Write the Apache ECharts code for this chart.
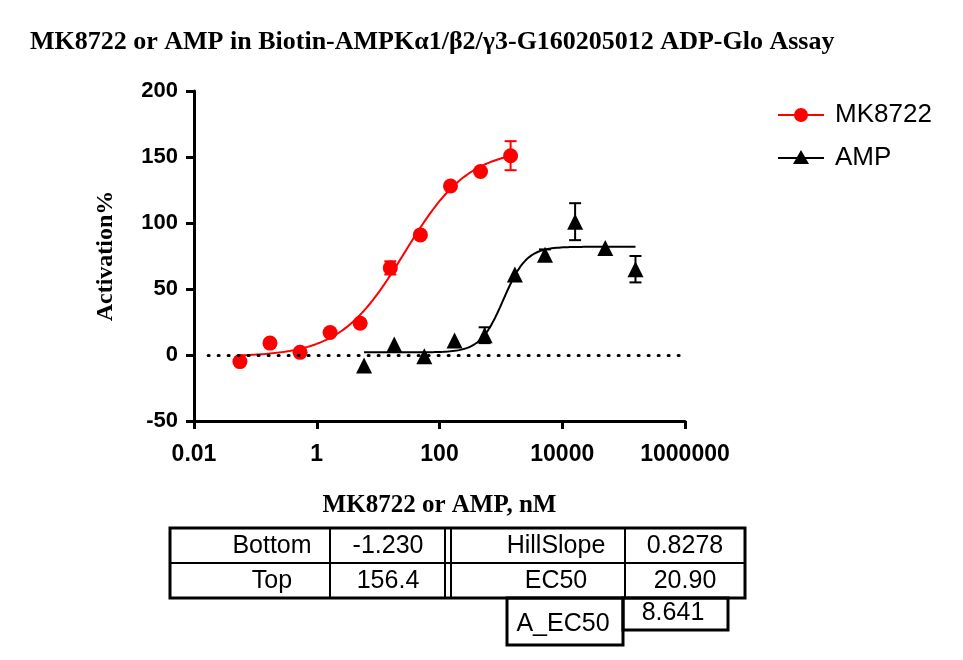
<!DOCTYPE html>
<html>
<head>
<meta charset="utf-8">
<script src="https://cdn.jsdelivr.net/npm/echarts@6/dist/echarts.min.js"></script>
<style>html,body{margin:0;padding:0;background:#fff}#chart{width:963px;height:660px}</style>
</head>
<body>
<div id="chart"></div>
<script>
// 数据
const mkDose = [0.056, 0.173, 0.535, 1.65, 5.1, 15.8, 48.8, 151, 466, 1440];
const mkResp = [-5, 9, 2, 17, 24, 66, 91, 128, 139, 151];
const mkErr = [0, 0, 0, 0, 0, 5, 0, 0, 0, 11];
const ampDose = [5.9, 18.3, 56.6, 176, 544, 1690, 5230, 16200, 50200, 156000];
const ampResp = [-8, 8, -1, 11, 15, 61, 76, 101, 81, 65];
const ampErr = [0, 0, 0, 0, 6, 0, 4, 14, 0, 10];
// 拟合参数 (bottom, top, ec50, hill)
const mkFit = [-1.23, 156.4, 27, 0.8278];
const ampFit = [2, 82, 1100, 2.3];
const tableRows = [['Bottom', '-1.230', 'HillSlope', '0.8278'], ['Top', '156.4', 'EC50', '20.90']];

function curve(fit, x0, x1) {
    const pts = [];
    const a = Math.log10(x0), b = Math.log10(x1);
    for (let i = 0; i <= 120; i++) {
        const lx = a + (b - a) * i / 120;
        const y = fit[0] + (fit[1] - fit[0]) / (1 + Math.pow(10, (Math.log10(fit[2]) - lx) * fit[3]));
        pts.push([Math.pow(10, lx), y]);
    }
    return pts;
}

function errSeries(dose, resp, err, color) {
    return {
        type: 'custom',
        silent: true,
        data: dose.map((d, i) => [d, resp[i], err[i]]).filter(p => p[2] > 0),
        renderItem: function(params, api) {
            const x = api.value(0), y = api.value(1), e = api.value(2);
            const top = api.coord([x, y + e]), bot = api.coord([x, y - e]);
            const s = {stroke: color, lineWidth: 2};
            return {type: 'group', children: [
                {type: 'line', shape: {x1: top[0], y1: top[1], x2: bot[0], y2: bot[1]}, style: s},
                {type: 'line', shape: {x1: top[0] - 6, y1: top[1], x2: top[0] + 6, y2: top[1]}, style: s},
                {type: 'line', shape: {x1: bot[0] - 6, y1: bot[1], x2: bot[0] + 6, y2: bot[1]}, style: s}
            ]};
        },
        z: 3
    };
}

const chart = echarts.init(document.getElementById('chart'));
const font = 'Liberation Sans, Arial, sans-serif';
const serif = 'Liberation Serif, Times New Roman, serif';

// 表格
const tbl = [];
const cellText = (x, y, t, align) => ({type: 'text', x: x, y: y, style: {text: t, font: '25px ' + font, fill: '#000', align: align || 'center', verticalAlign: 'middle'}});
const box = (x, y, w, h) => ({type: 'rect', shape: {x: x, y: y, width: w, height: h}, style: {fill: 'none', stroke: '#000', lineWidth: 3}});
const vline = (x, y1, y2, w) => ({type: 'line', shape: {x1: x, y1: y1, x2: x, y2: y2}, style: {stroke: '#000', lineWidth: w || 2}});
tbl.push(box(170, 528, 575, 70));
tbl.push({type: 'line', shape: {x1: 170, y1: 563, x2: 745, y2: 563}, style: {stroke: '#000', lineWidth: 2}});
tbl.push(vline(330, 528, 598), vline(445, 528, 598), vline(451, 528, 598), vline(625, 528, 598));
tableRows.forEach((r, i) => {
    const y = 546 + i * 35;
    tbl.push(cellText(272, y, r[0]), cellText(388, y, r[1]), cellText(556, y, r[2]), cellText(685, y, r[3]));
});
tbl.push(box(507, 598, 116, 47), box(623, 598, 105, 32));
tbl.push(cellText(563, 624, 'A_EC50'), cellText(673, 613, '8.641'));

// 图例
const legend = [
    {type: 'line', shape: {x1: 778, y1: 115, x2: 824, y2: 115}, style: {stroke: '#ff0000', lineWidth: 2}},
    {type: 'circle', shape: {cx: 801, cy: 115, r: 7}, style: {fill: '#ff0000'}},
    {type: 'text', x: 835, y: 115, style: {text: 'MK8722', font: '26px ' + font, fill: '#000', verticalAlign: 'middle'}},
    {type: 'line', shape: {x1: 778, y1: 158, x2: 824, y2: 158}, style: {stroke: '#000', lineWidth: 2}},
    {type: 'polygon', shape: {points: [[801, 150], [793, 164], [809, 164]]}, style: {fill: '#000'}},
    {type: 'text', x: 835, y: 158, style: {text: 'AMP', font: '26px ' + font, fill: '#000', verticalAlign: 'middle'}}
];

chart.setOption({
    animation: false,
    title: {text: 'MK8722 or AMP in Biotin-AMPKα1/β2/γ3-G160205012 ADP-Glo Assay', left: 25, top: 24,
        textStyle: {fontFamily: serif, fontWeight: 'bold', fontSize: 26, color: '#000'}},
    grid: {left: 194, right: 278, top: 91, bottom: 239},
    xAxis: {
        type: 'log', logBase: 10, min: 0.01, max: 1000000, interval: 2,
        name: 'MK8722 or AMP, nM', nameLocation: 'middle', nameGap: 72,
        nameTextStyle: {fontFamily: serif, fontWeight: 'bold', fontSize: 25, color: '#000'},
        axisLine: {onZero: false, lineStyle: {color: '#000', width: 3}},
        axisTick: {length: 8, lineStyle: {color: '#000', width: 3}},
        minorTick: {show: false},
        splitLine: {show: false},
        axisLabel: {fontFamily: font, fontWeight: 'bold', fontSize: 23, color: '#000', margin: 22,
            formatter: v => String(Math.round(Math.log10(v)) < 0 ? v.toFixed(2) : Math.round(v))}
    },
    yAxis: {
        type: 'value', min: -50, max: 200, interval: 50,
        name: 'Activation%', nameLocation: 'middle', nameGap: 76,
        nameTextStyle: {fontFamily: serif, fontWeight: 'bold', fontSize: 24, color: '#000'},
        axisLine: {show: true, lineStyle: {color: '#000', width: 3}},
        axisTick: {show: true, length: 8, lineStyle: {color: '#000', width: 3}},
        splitLine: {show: false},
        axisLabel: {fontFamily: font, fontWeight: 'bold', fontSize: 22, color: '#000', margin: 16}
    },
    graphic: tbl.concat(legend),
    series: [
        {type: 'line', data: curve(mkFit, 0.056, 1440), showSymbol: false, lineStyle: {color: '#ff0000', width: 2}, silent: true,
            markLine: {silent: true, symbol: 'none', label: {show: false},
                lineStyle: {color: '#000', type: [1, 9], width: 3, cap: 'round'},
                data: [[{coord: [0.017, 0]}, {coord: [1000000, 0]}]]}},
        {type: 'line', data: curve(ampFit, 5.9, 156000), showSymbol: false, lineStyle: {color: '#000', width: 2}, silent: true},
        errSeries(mkDose, mkResp, mkErr, '#ff0000'),
        errSeries(ampDose, ampResp, ampErr, '#000'),
        {type: 'scatter', data: mkDose.map((d, i) => [d, mkResp[i]]), symbol: 'circle', symbolSize: 15, itemStyle: {color: '#ff0000', opacity: 1}, z: 4},
        {type: 'scatter', data: ampDose.map((d, i) => [d, ampResp[i]]), symbol: 'triangle', symbolSize: 16, itemStyle: {color: '#000', opacity: 1}, z: 4}
    ]
});
</script>
</body>
</html>
